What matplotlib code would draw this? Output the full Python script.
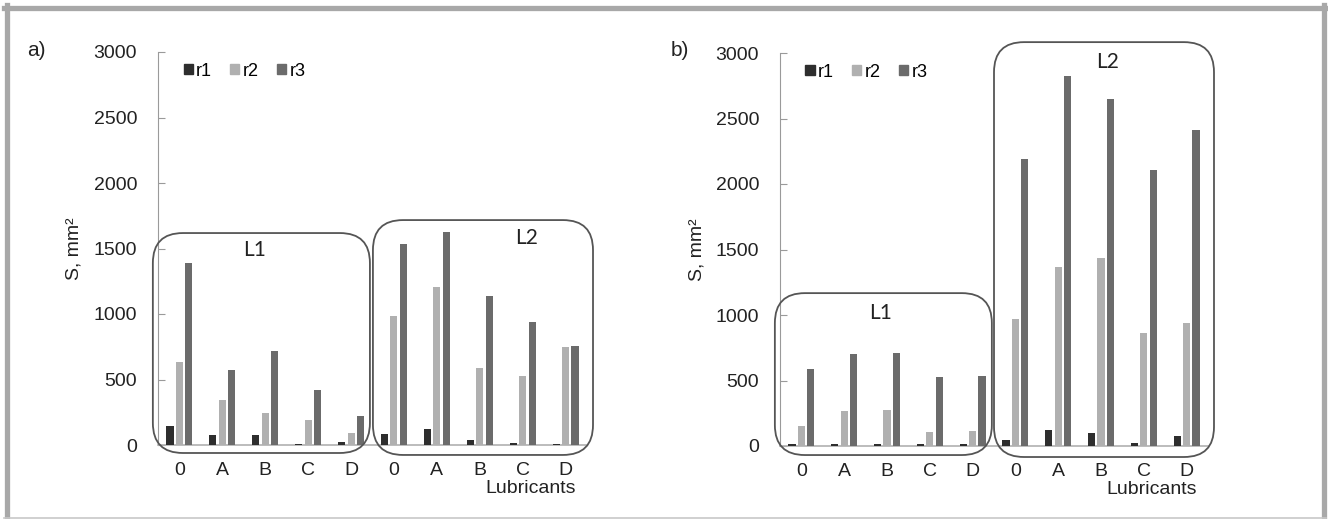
import matplotlib
matplotlib.use('Agg')
import matplotlib.pyplot as plt
import numpy as np
from matplotlib.patches import FancyBboxPatch
from matplotlib.lines import Line2D

plt.rcParams['font.family'] = ['Liberation Sans', 'DejaVu Sans']

categories = ['0', 'A', 'B', 'C', 'D', '0', 'A', 'B', 'C', 'D']
series = ['r1', 'r2', 'r3']
colors = ['#2e2e2e', '#b0b0b0', '#6b6b6b']

# panel a)
a_r1 = [145, 76, 76, 10, 25, 84, 120, 38, 18, 10]
a_r2 = [635, 341, 247, 188, 94, 987, 1205, 585, 524, 745]
a_r3 = [1388, 570, 715, 422, 224, 1534, 1628, 1139, 941, 758]

# panel b)
b_r1 = [13, 13, 13, 13, 13, 46, 120, 97, 20, 76]
b_r2 = [153, 267, 275, 107, 112, 969, 1363, 1432, 860, 941]
b_r3 = [585, 700, 707, 524, 532, 2192, 2825, 2648, 2104, 2411]

# group boxes (x0, x1, y0, y1) in data units, label position
a_boxes = [((-0.62, 4.44, -61, 1618), 'L1', (1.76, 1490)),
           ((4.51, 9.64, -76, 1717), 'L2', (8.08, 1580))]
b_boxes = [((-0.62, 4.45, -69, 1167), 'L1', (1.84, 1015)),
           ((4.50, 9.64, -84, 3083), 'L2', (7.16, 2930))]

W, H = 1328, 519
fig = plt.figure(figsize=(W / 100, H / 100), dpi=100)

ax_a = fig.add_axes([158 / W, (H - 445) / H, 429 / W, 393 / H])
ax_b = fig.add_axes([780 / W, (H - 446) / H, 428 / W, 393 / H])


def draw_panel(ax, data, boxes, tag, legend_x):
    x = np.arange(len(categories))
    offs = [-0.22, 0, 0.22]
    for vals, off, c, name in zip(data, offs, colors, series):
        ax.bar(x + off, vals, width=0.165, color=c, label=name, zorder=3)
    ax.set_xlim(-0.5, 9.5)
    ax.set_ylim(0, 3000)
    ax.set_yticks(range(0, 3001, 500))
    ax.set_xticks(x)
    ax.set_xticklabels(categories)
    for s in ['top', 'right']:
        ax.spines[s].set_visible(False)
    ax.spines['left'].set_color('#9a9a9a')
    ax.spines['bottom'].set_color('#b0b0b0')
    ax.spines['bottom'].set_linewidth(1.2)
    ax.tick_params(axis='y', direction='in', length=5, color='#9a9a9a',
                   labelsize=14, pad=15, labelcolor='#222222')
    ax.tick_params(axis='x', length=0, labelsize=14, pad=12, labelcolor='#222222')
    ax.set_ylabel('S, mm²', fontsize=14, color='#222222')
    ax.yaxis.set_label_coords(-0.175, 0.5)
    ax.text(0.868, -0.11, 'Lubricants', transform=ax.transAxes, fontsize=14,
            ha='center', va='center', color='#222222')
    ax.text(tag[1], tag[2], tag[0], transform=fig.transFigure, fontsize=15,
            ha='left', va='center', color='#222222')

    # rounded group boxes
    fig.canvas.draw()
    bb = ax.get_window_extent()
    xpp = (9.5 + 0.5) / bb.width
    ypp = 3000 / bb.height
    asp = ypp / xpp
    for (x0, x1, y0, y1), lab, (lx, ly) in boxes:
        p = FancyBboxPatch((x0, y0), x1 - x0, y1 - y0,
                           boxstyle='round,pad=0,rounding_size=0.7',
                           mutation_aspect=asp, facecolor='none',
                           edgecolor='#555555', linewidth=1.3,
                           clip_on=False, zorder=4)
        ax.add_patch(p)
        ax.text(lx, ly, lab, fontsize=15, ha='center', va='center',
                family=['Lato', 'DejaVu Sans'], color='#222222')

    handles = [plt.Rectangle((0, 0), 1, 1, color=c) for c in colors]
    ax.legend(handles, series, loc='upper left', ncol=3, frameon=False,
              bbox_to_anchor=(legend_x, 1.005), fontsize=13,
              handlelength=0.5, handleheight=0.5, handletextpad=0.2,
              columnspacing=1.0, borderaxespad=0.3)


draw_panel(ax_a, [a_r1, a_r2, a_r3], a_boxes, ('a)', 27 / W, 1 - 50 / H), 0.03)
draw_panel(ax_b, [b_r1, b_r2, b_r3], b_boxes, ('b)', 671 / W, 1 - 50 / H), 0.03)

# grey frame around the figure
fc = '#a8a8a8'
fig.add_artist(Line2D([4 / W, 1326 / W], [1 - 7.5 / H, 1 - 7.5 / H], color=fc, lw=3.8))
fig.add_artist(Line2D([6.5 / W, 6.5 / W], [1 - 518 / H, 1 - 5 / H], color=fc, lw=3.8))
fig.add_artist(Line2D([1323.5 / W, 1323.5 / W], [1 - 518 / H, 1 - 5 / H], color=fc, lw=3.8))
fig.add_artist(Line2D([4 / W, 1326 / W], [1 - 517.5 / H, 1 - 517.5 / H], color='#c8c8c8', lw=1.2))

fig.savefig('out.png', dpi=100)
